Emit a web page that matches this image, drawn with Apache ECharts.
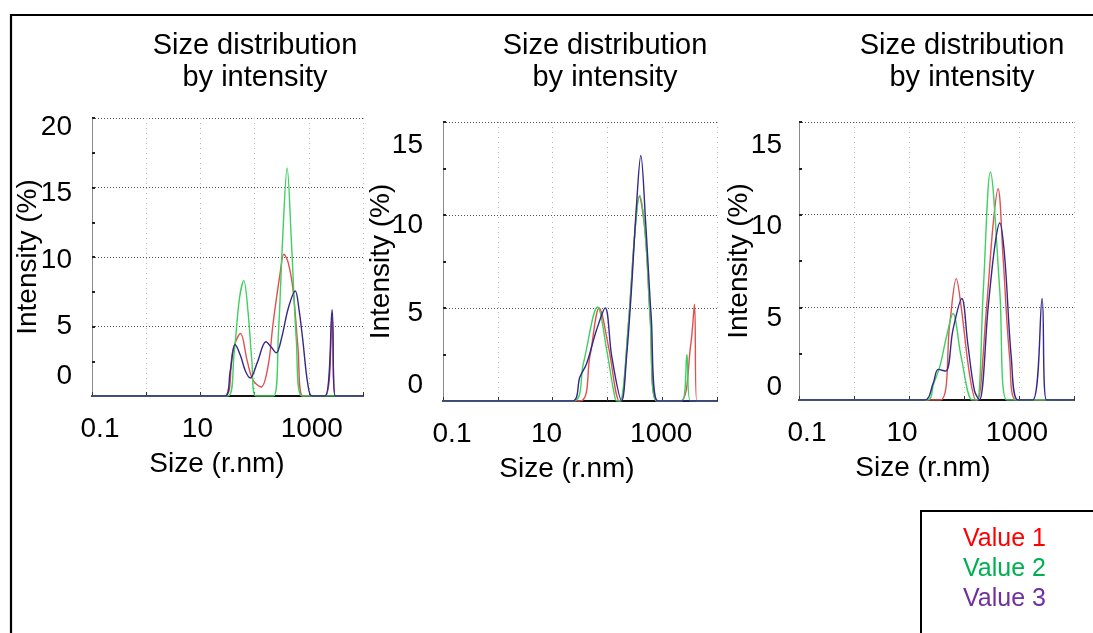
<!DOCTYPE html>
<html>
<head>
<meta charset="utf-8">
<script src="https://cdn.jsdelivr.net/npm/echarts@6/dist/echarts.min.js"></script>
<style>
html,body{margin:0;padding:0;background:#fff;}
#chart{width:1093px;height:633px;}
</style>
</head>
<body>
<div id="chart"></div>
<script>
// ---------- data ----------
const seriesNames = ['Value 1', 'Value 2', 'Value 3'];
const panelTitle = 'Size distribution\nby intensity';
const xAxisName = 'Size (r.nm)';
const yAxisName = 'Intensity (%)';
const xTickLabels = ['0.1', '10', '1000'];
const yMaxes = [20, 15, 15];

// Panel 1 (size in r.nm, intensity in %)
const p1Size1 = [0.1, 28.2, 39.8, 55.0, 72.4, 93.3, 132, 178, 219, 295, 347, 417, 513, 631, 776, 2000, 2690, 3090, 10000];
const p1Int1  = [0,   0,    3.3,  4.5,  2.6,  1.15, 0.65, 2.2, 5.2, 8.8, 10.2, 9.6, 7.6, 3.5, 0,   0,    5.8,  0,    0];
const p1Size2 = [0.1, 32.4, 41.7, 52.5, 63.1, 75.9, 89.1, 105, 224, 275, 331, 398, 479, 589, 741, 10000];
const p1Int2  = [0,   0,    3.0,  7.0,  8.3,  6.0,  2.5,  0,   0,   4.5, 11.5, 16.4, 11.0, 4.0, 0,  0];
const p1Size3 = [0.1, 28.2, 35.5, 43.7, 55.0, 67.6, 83.2, 112, 162, 204, 251, 316, 417, 562, 661, 776, 955, 1150, 2000, 2690, 3090, 10000];
const p1Int3  = [0,   0,    1.8,  3.7,  2.9,  1.8,  1.3,  2.4, 3.9, 3.5, 3.1, 4.2, 6.3, 7.55, 6.2, 4.0, 0.9, 0,   0,    6.2,  0,    0];

// Panel 2
const p2Size1 = [0.1, 31.6, 47.9, 70.8, 105, 166, 178, 240, 316, 380, 490, 603, 794, 2140, 3310, 3890, 4270, 10000];
const p2Int1  = [0,   0,    2.4,  5.0,  2.9, 0,   0,   4.0, 9.0, 11.0, 9.0, 4.5, 0,  0,    3.0,  5.2,  0,    0];
const p2Size2 = [0.1, 24.0, 36.3, 66.1, 97.7, 129, 148, 170, 240, 316, 389, 490, 603, 794, 2290, 2820, 3240, 10000];
const p2Int2  = [0,   0,    2.0,  5.05, 2.7,  0.6, 0,   0,   4.0, 9.0, 11.05, 9.0, 4.5, 0,  0,    2.5,  0,    0];
const p2Size3 = [0.1, 22.4, 31.6, 41.7, 63.1, 91.2, 120, 182, 224, 275, 339, 407, 501, 631, 832, 10000];
const p2Int3  = [0,   0,    1.3,  2.0,  3.8,  5.0,  2.4, 0,   2.4, 6.0, 10.5, 13.2, 9.5, 4.5, 0,  0];

// Panel 3
const p3Size1 = [0.1, 37.2, 55.0, 72.4, 89.1, 126, 166, 178, 257, 339, 417, 513, 676, 891, 10000];
const p3Int1  = [0,   0,    4.1,  6.55, 5.0,  1.4, 0,   0,   5.0, 9.5, 11.4, 7.7, 2.3, 0,  0];
const p3Size2 = [0.1, 21.4, 28.2, 36.3, 47.9, 63.1, 89.1, 141, 174, 224, 302, 447, 603, 10000];
const p3Int2  = [0,   0,    0.9,  1.8,  3.4,  4.67, 2.3,  0,   0,   5.9, 12.3, 5.9, 0,   0];
const p3Size3 = [0.1, 19.1, 27.5, 33.9, 46.8, 63.1, 91.2, 117, 155, 191, 275, 363, 447, 550, 724, 955, 1780, 2630, 3160, 10000];
const p3Int3  = [0,   0,    0.9,  1.65, 1.56, 3.8,  5.48, 3.05, 0.5, 0,  5.0, 8.3, 9.55, 7.7, 2.3, 0,  0,    5.48, 0,    0];

const panels = [
  [[p1Size1, p1Int1], [p1Size2, p1Int2], [p1Size3, p1Int3]],
  [[p2Size1, p2Int1], [p2Size2, p2Int2], [p2Size3, p2Int3]],
  [[p3Size1, p3Int1], [p3Size2, p3Int2], [p3Size3, p3Int3]]
];

// ---------- style / layout ----------
const FONT = '"Liberation Sans", Arial, sans-serif';
const lineColors = ['#e05050', '#3fd060', '#34288a'];
const legendColors = ['#ff0000', '#00b050', '#7030a0'];
const grids = [
  {left: 92, top: 118, width: 271, height: 278},
  {left: 443, top: 122, width: 274, height: 279},
  {left: 799, top: 122, width: 275, height: 278}
];
const titleCenters = [255, 605, 962];
const xNamePadRight = [21, 26, 27];
const yLabelMargin = [20, 20, 17];
const yNameGap = [50, 48, 46];
// vertical offsets of y tick labels (px, + = down), as in the reference
const yLabelShift = [
  {0: -20, 5: 0, 10: 3, 15: 6, 20: 9},
  {0: -16, 5: 5, 10: 10, 15: 23},
  {0: -13, 5: 11, 10: 12, 15: 23}
];
// horizontal offsets of x tick labels (px, + = right)
const xLabelShift = [
  {'0.1': 8, '10': -3, '1000': 3},
  {'0.1': 9, '10': -6, '1000': -1},
  {'0.1': 8, '10': -7, '1000': -2}
];

function zip(xs, ys) { return xs.map((x, i) => [x, ys[i]]); }
function fmtLog(v) {
  const e = Math.round(Math.log10(v));
  return e >= 0 ? String(Math.pow(10, e)) : String(+Math.pow(10, e).toPrecision(1));
}
function key(s) { return 'k' + s.replace('.', '_'); }

const option = {
  backgroundColor: '#ffffff',
  animation: false,
  textStyle: {fontFamily: FONT},
  title: titleCenters.map(cx => ({
    text: panelTitle,
    left: cx,
    top: 30,
    textAlign: 'center',
    padding: 0,
    textStyle: {fontFamily: FONT, fontSize: 29, fontWeight: 'normal', color: '#000', lineHeight: 32}
  })),
  legend: {
    orient: 'vertical',
    left: 958,
    top: 524,
    padding: 0,
    itemGap: 0,
    itemWidth: 0,
    itemHeight: 0,
    selectedMode: false,
    textStyle: {fontFamily: FONT, fontSize: 25, lineHeight: 30},
    data: seriesNames.map((n, i) => ({name: n, icon: 'rect', itemStyle: {opacity: 0}, textStyle: {color: legendColors[i], fontSize: 25, fontFamily: FONT}}))
  },
  grid: grids.map(g => Object.assign({outerBoundsMode: 'none', containLabel: false}, g)),
  xAxis: grids.map((g, i) => {
    const rich = {};
    xTickLabels.forEach(s => {
      const d = xLabelShift[i][s] || 0;
      rich[key(s)] = {
        fontSize: 28, fontFamily: FONT, color: '#000',
        padding: d >= 0 ? [0, 0, 0, 2 * d] : [0, -2 * d, 0, 0]
      };
    });
    return {
      type: 'log',
      logBase: 10,
      gridIndex: i,
      min: 0.1,
      max: 10000,
      name: xAxisName,
      nameLocation: 'middle',
      nameGap: 54,
      nameMoveOverlap: false,
      nameTextStyle: {fontFamily: FONT, fontSize: 28, color: '#000', padding: [0, xNamePadRight[i], 0, 0]},
      axisLine: {show: true, onZero: false, lineStyle: {color: '#111', width: 2}},
      axisTick: {show: true, inside: true, length: 4, lineStyle: {color: '#333'}},
      axisLabel: {
        show: true, margin: 19, fontSize: 28, fontFamily: FONT, color: '#000',
        formatter: v => { const s = fmtLog(v); return xTickLabels.includes(s) ? '{' + key(s) + '|' + s + '}' : ''; },
        rich: rich
      },
      splitLine: {show: true, lineStyle: {color: '#b8b8b8', type: [1, 4], width: 1}}
    };
  }),
  yAxis: grids.map((g, i) => {
    const rich = {};
    Object.keys(yLabelShift[i]).forEach(k => {
      const d = yLabelShift[i][k];
      rich['t' + k] = {
        fontSize: 28, fontFamily: FONT, color: '#000',
        padding: d >= 0 ? [2 * d, 0, 0, 0] : [0, 0, -2 * d, 0]
      };
    });
    return {
      type: 'value',
      gridIndex: i,
      min: 0,
      max: yMaxes[i],
      interval: 5,
      name: yAxisName,
      nameLocation: 'middle',
      nameGap: yNameGap[i],
      nameMoveOverlap: false,
      nameTextStyle: {fontFamily: FONT, fontSize: 28, color: '#000'},
      axisLine: {show: true, lineStyle: {color: '#8a8a8a', width: 1}},
      axisTick: {show: true, inside: true, length: 3, lineStyle: {color: '#222', width: 2}},
      minorTick: {show: true, splitNumber: 2, length: 3, lineStyle: {color: '#222', width: 2}},
      axisLabel: {
        show: true, margin: yLabelMargin[i], fontSize: 28, fontFamily: FONT, color: '#000',
        formatter: v => '{t' + v + '|' + v + '}',
        rich: rich
      },
      splitLine: {show: true, lineStyle: {color: '#555', type: [1, 2], width: 1}}
    };
  }),
  series: [],
  graphic: [
    {type: 'polyline', silent: true, z: 100, shape: {points: [[11, 700], [11, 15], [1200, 15]]}, style: {stroke: '#000', lineWidth: 2.2, fill: null}},
    {type: 'rect', silent: true, z: 100, shape: {x: 921, y: 511, width: 400, height: 300}, style: {stroke: '#000', lineWidth: 2, fill: null}}
  ]
};

panels.forEach((panel, pi) => {
  panel.forEach((pair, si) => {
    option.series.push({
      type: 'line',
      name: seriesNames[si],
      xAxisIndex: pi,
      yAxisIndex: pi,
      data: zip(pair[0], pair[1]),
      showSymbol: false,
      symbol: 'none',
      smooth: 0.35,
      lineStyle: {color: lineColors[si], width: 1.4},
      itemStyle: {color: lineColors[si]},
      clip: true
    });
  });
});

const chart = echarts.init(document.getElementById('chart'), null, {renderer: 'canvas'});
chart.setOption(option);
</script>
</body>
</html>
